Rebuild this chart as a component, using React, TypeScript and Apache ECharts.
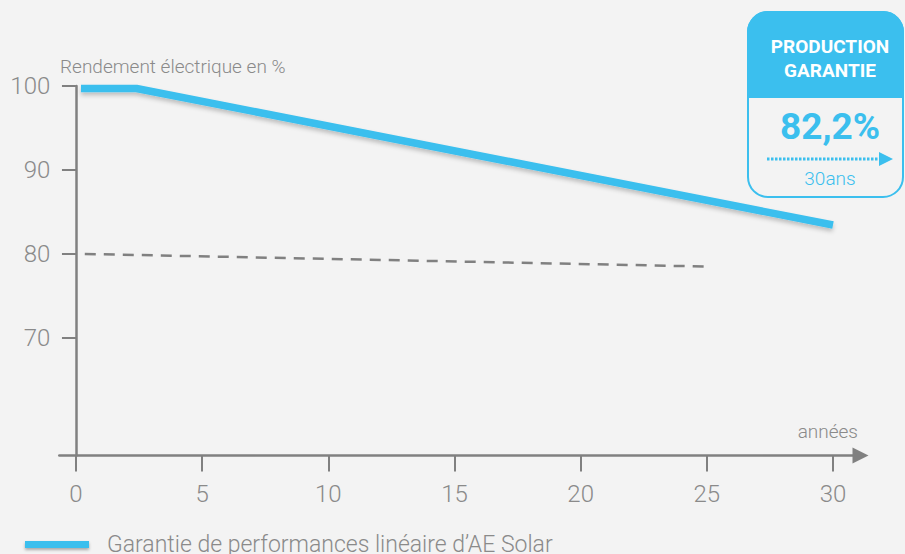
import React, { useEffect, useRef } from "react";
import * as echarts from "echarts";

const xTicks = [0, 5, 10, 15, 20, 25, 30];
const yTicks = [70, 80, 90, 100];
const warrantyYears = [0.2, 2.4, 30];
const warrantyValues = [99.7, 99.7, 83.45];
const standardYears = [0.35, 25];
const standardValues = [80, 78.5];
const warrantyName = "Garantie de performances linéaire d’AE Solar";
const yAxisTitle = "Rendement électrique en %";
const xAxisTitle = "années";
const boxTitle1 = "PRODUCTION";
const boxTitle2 = "GARANTIE";
const boxValue = "82,2%";
const boxYears = "30ans";

const BLUE = "#3bbfee";
const GREY = "#808080";
const TXT = "#8a8a8a";
const BG = "#f3f3f3";
const FONT = "Roboto";

export default function App() {
  const ref = useRef<HTMLDivElement>(null);
  useEffect(() => {
    if (!ref.current) return;
    const chart = echarts.init(ref.current, undefined, { renderer: "svg" });
    const option: any = {
      animation: false,
      backgroundColor: BG,
      grid: { left: 59.3, right: 44.5, top: 86, bottom: 98.5, containLabel: false, outerBoundsMode: "none" },
      xAxis: {
        type: "value",
        min: -0.66,
        max: 31.09,
        splitLine: { show: false },
        axisLine: {
          show: true,
          lineStyle: { color: GREY, width: 2.5 },
          symbol: ["none", "triangle"],
          symbolSize: [16, 16],
        },
        axisTick: {
          show: true,
          customValues: xTicks,
          length: 16,
          lineStyle: { color: GREY, width: 2 },
        },
        axisLabel: {
          customValues: xTicks,
          margin: 26,
          fontSize: 24,
          fontFamily: FONT,
          fontWeight: 300,
          color: TXT,
        },
      },
      yAxis: {
        type: "value",
        min: 56,
        max: 100,
        splitLine: { show: false },
        axisLine: {
          show: true,
          onZero: true,
          lineStyle: { color: GREY, width: 2.5 },
        },
        axisTick: {
          show: true,
          customValues: yTicks,
          length: 14,
          lineStyle: { color: GREY, width: 2 },
        },
        axisLabel: {
          customValues: yTicks,
          margin: 9,
          fontSize: 24,
          fontFamily: FONT,
          fontWeight: 300,
          color: TXT,
        },
      },
      legend: {
        data: [warrantyName],
        left: 25,
        top: 533,
        padding: 0,
        icon: "rect",
        itemWidth: 64,
        itemHeight: 7,
        itemGap: 18,
        textStyle: { fontSize: 23, fontFamily: FONT, fontWeight: 300, color: TXT, padding: [0, 0, 0, 13] },
        itemStyle: { shadowColor: "rgba(0,0,0,0.3)", shadowBlur: 3, shadowOffsetY: 2 },
      },
      series: [
        {
          name: warrantyName,
          type: "line",
          symbol: "none",
          data: warrantyYears.map((x, i) => [x, warrantyValues[i]]),
          lineStyle: {
            color: BLUE,
            width: 7.5,
            cap: "butt",
            shadowColor: "rgba(0,0,0,0.22)",
            shadowBlur: 4,
            shadowOffsetY: 3,
          },
          itemStyle: { color: BLUE },
          z: 3,
        },
        {
          name: "standard",
          type: "line",
          symbol: "none",
          data: standardYears.map((x, i) => [x, standardValues[i]]),
          lineStyle: { color: GREY, width: 2.5, type: [11, 8] },
          itemStyle: { color: GREY },
          z: 2,
        },
      ],
      graphic: [
        {
          type: "text",
          left: 60,
          top: 57,
          style: { text: yAxisTitle, fontSize: 19, fontFamily: FONT, fontWeight: 300, fill: TXT },
        },
        {
          type: "text",
          x: 858,
          y: 431,
          style: { text: xAxisTitle, fontSize: 19, fontFamily: FONT, fontWeight: 300, fill: TXT, align: "right", verticalAlign: "middle" },
        },
        {
          type: "rect",
          shape: { x: 748, y: 12, width: 155, height: 185, r: 20 },
          style: { fill: BG, stroke: BLUE, lineWidth: 2 },
        },
        {
          type: "rect",
          shape: { x: 747, y: 11, width: 157, height: 87, r: [21, 21, 0, 0] },
          style: { fill: BLUE },
        },
        {
          type: "text",
          x: 830,
          y: 46,
          style: { text: boxTitle1, fontSize: 19, fontFamily: FONT, fontWeight: "bold", fill: "#ffffff", align: "center", verticalAlign: "middle" },
        },
        {
          type: "text",
          x: 830,
          y: 70,
          style: { text: boxTitle2, fontSize: 19, fontFamily: FONT, fontWeight: "bold", fill: "#ffffff", align: "center", verticalAlign: "middle" },
        },
        {
          type: "text",
          x: 830,
          y: 126,
          style: { text: boxValue, fontSize: 37, fontFamily: FONT, fontWeight: "bold", fill: BLUE, align: "center", verticalAlign: "middle" },
        },
        {
          type: "line",
          shape: { x1: 767, y1: 159, x2: 880, y2: 159 },
          style: { stroke: BLUE, lineWidth: 3, lineDash: [2.5, 1.5] },
        },
        {
          type: "polygon",
          shape: { points: [[879, 152], [893, 159], [879, 166]] },
          style: { fill: BLUE },
        },
        {
          type: "text",
          x: 830,
          y: 178,
          style: { text: boxYears, fontSize: 19, fontFamily: FONT, fontWeight: 300, fill: BLUE, align: "center", verticalAlign: "middle" },
        },
      ],
    };
    chart.setOption(option);
    return () => chart.dispose();
  }, []);
  return (
    <div
      ref={ref}
      style={{ position: "fixed", left: 0, top: 0, width: 905, height: 554, background: BG }}
    />
  );
}
